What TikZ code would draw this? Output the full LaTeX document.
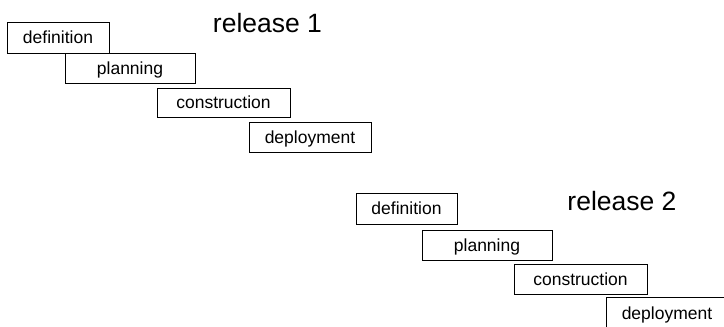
\documentclass[tikz,border=0pt]{standalone}
\usepackage{fontspec}
\setmainfont{Liberation Sans}
\begin{document}
\begin{tikzpicture}[x=1pt,y=1pt,
  phase/.style={draw=black,line width=0.8pt,inner sep=0pt,font=\fontsize{17.5}{20}\selectfont,text height=12.5pt,text depth=0pt},
  rel/.style={font=\fontsize{26.5}{30}\selectfont,anchor=base}]
\useasboundingbox (0,0) rectangle (724,327);
\clip (0,0) rectangle (724,327);
% release 1
\node[phase,minimum width=102pt,minimum height=31pt] (d1) at (58,289.5) {definition};
\node[phase,minimum width=130pt,minimum height=30pt] (p1) at (130,259) {planning};
\node[phase,minimum width=133pt,minimum height=29pt] (c1) at (223.5,224.5) {construction};
\node[phase,minimum width=122pt,minimum height=30pt] (e1) at (310,190) {deployment};
\node[rel] (r1) at (267.5,294) {release 1};
% release 2
\node[phase,minimum width=101pt,minimum height=31pt] (d2) at (406.5,118.5) {definition};
\node[phase,minimum width=130pt,minimum height=30pt] (p2) at (487,82) {planning};
\node[phase,minimum width=133pt,minimum height=30pt] (c2) at (580.5,48) {construction};
\node[phase,minimum width=122pt,minimum height=32pt] (e2) at (667,14) {deployment};
\node[rel] (r2) at (622,116) {release 2};
\end{tikzpicture}
\end{document}
